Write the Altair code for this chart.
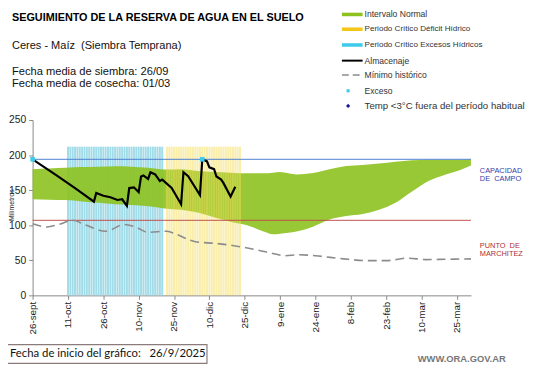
import json
import altair as alt
import pandas as pd

FONT = "Liberation Sans"

# ---------------- data ----------------
tick_days = [0, 15, 30, 45, 60, 75, 90, 105, 120, 135, 150, 165, 180]
tick_labels = ["26-sept", "11-oct", "26-oct", "10-nov", "25-nov", "10-dic", "25-dic",
               "9-ene", "24-ene", "8-feb", "23-feb", "10-mar", "25-mar"]

# Intervalo normal (band)
band_day = [0, 7, 14, 21, 28, 35, 42, 49, 56, 63, 70, 77, 84, 91, 98, 102, 105, 112, 119,
            126, 133, 140, 147, 154, 161, 168, 175, 182, 186]
band_low = [137, 136.5, 136, 134, 132, 130, 129, 127, 124, 122, 118, 111.5, 105, 100, 91, 87,
            88, 91, 98, 108, 113, 116, 122, 132, 148, 163, 172, 179.5, 185]
band_high = [180, 181, 182, 183, 183.5, 184, 183.5, 182, 179.5, 180, 177.5, 176, 175, 174, 174,
             175, 176, 172.5, 174.5, 180, 184.5, 186, 188, 190.5, 192.5, 193.5, 193.5, 193.5, 194]

# Minimo historico
min_day = [0, 6, 11, 17, 22, 31, 39, 44, 49, 57, 61, 69, 78, 86, 95, 103, 107, 113, 120, 132,
           143, 150, 159, 167, 176, 186]
min_val = [102, 97.5, 101, 107, 101, 91.5, 101, 97, 90, 91.5, 87, 76.5, 74, 70.5, 65, 59, 56.5,
           58, 56.5, 52, 49.5, 49.5, 53, 51, 51.5, 52]

# Almacenaje
alm_day = [0, 10, 18, 26, 27, 30, 33, 36, 38, 40, 41, 43, 45, 46, 47, 49, 50, 52, 54, 55,
           59, 63, 64, 66, 71, 72, 74, 75, 77, 78, 80, 81, 84, 86]
alm_val = [194, 171.5, 153, 133.5, 146, 142, 140, 136, 137, 127.5, 153, 154, 147, 169.5, 171,
           166, 175.5, 172.5, 163, 165, 153, 130, 175.5, 170, 143, 194, 191, 182.5, 180, 169.5,
           165, 160, 141, 155]

# Exceso points
exc_day = [0, 72]
exc_val = [194, 194]

# Critical periods (first day, last day) and bar top
exceso_start, exceso_end = 15, 55
deficit_start, deficit_end = 57, 88
period_top = 212

capacidad = 194
marchitez = 107

# ---------------- frames ----------------
band_df = pd.DataFrame({"day": band_day, "low": band_low, "high": band_high})
min_df = pd.DataFrame({"day": min_day, "val": min_val})
alm_df = pd.DataFrame({"day": alm_day, "val": alm_val})
exc_df = pd.DataFrame({"day": exc_day, "val": exc_val})
exc_stripes = pd.DataFrame({"day": list(range(exceso_start, exceso_end + 1))})
exc_stripes["top"] = period_top
def_stripes = pd.DataFrame({"day": list(range(deficit_start, deficit_end + 1))})
def_stripes["top"] = period_top

XS = alt.Scale(domain=[0, 186], nice=False, zero=False)
YS = alt.Scale(domain=[0, 250], nice=False)

label_expr = json.dumps(tick_labels) + "[round(datum.value/15)]"

x_axis = alt.Axis(values=tick_days, labelExpr=label_expr, labelAngle=270, labelFontSize=10,
                  labelFont=FONT, labelColor="#222", tickSize=4, tickColor="#888",
                  domainColor="#888", grid=False, title=None, labelPadding=2,
                  labelOverlap=False)
y_axis = alt.Axis(values=[0, 50, 100, 150, 200, 250], labelFontSize=10.5, labelFont=FONT,
                  labelColor="#222", tickSize=4, tickColor="#888", domainColor="#888",
                  grid=False, title="Milímetros", titleFontSize=7, titleFont=FONT,
                  titleFontWeight="normal", titleColor="#222", titleAngle=270,
                  titleX=-21, titleY=86, titleAlign="center", titleBaseline="middle",
                  labelPadding=3)


def X(f):
    return alt.X(f, scale=XS, axis=x_axis)


def Y(f):
    return alt.Y(f, scale=YS, axis=y_axis)


band = alt.Chart(band_df).mark_area(color="#8DC21F", interpolate="monotone",
                                    opacity=0.9).encode(
    x=X("day:Q"), y=Y("low:Q"), y2="high:Q")


def stripes(df, color, opacity):
    return alt.Chart(df).mark_rect(color=color, opacity=opacity).transform_calculate(
        x0="datum.day - 0.42", x1="datum.day + 0.42"
    ).encode(x=X("x0:Q"), x2="x1:Q", y=Y("top:Q"), y2=alt.datum(0))


exc_bars = stripes(exc_stripes, "#A2DCE8", 1)
def_bars = stripes(def_stripes, "#F3DE5A", 0.5)

cap_rule = alt.Chart(pd.DataFrame({"v": [capacidad]})).mark_rule(
    color="#4F7FD0", strokeWidth=1).encode(y=Y("v:Q"))
pm_rule = alt.Chart(pd.DataFrame({"v": [marchitez]})).mark_rule(
    color="#C0504D", strokeWidth=1).encode(y=Y("v:Q"))

min_line = alt.Chart(min_df).mark_line(color="#8C8C8C", strokeWidth=1.6, strokeDash=[9, 5],
                                        interpolate="monotone").encode(
    x=X("day:Q"), y=Y("val:Q"))

alm_line = alt.Chart(alm_df).mark_line(color="#000000", strokeWidth=2.2).encode(
    x=X("day:Q"), y=Y("val:Q"))

exc_pts = alt.Chart(exc_df).mark_square(color="#3ECBEB", size=22, opacity=1).encode(
    x=X("day:Q"), y=Y("val:Q"))

ONE = alt.Data(values=[{"a": 1}])


def txt(s, x, y, size=9, color="#333", weight="normal", align="left", font=FONT):
    return alt.Chart(ONE).mark_text(align=align, baseline="middle", fontSize=size,
                                    color=color, fontWeight=weight, font=font).encode(
        x=alt.value(x), y=alt.value(y), text=alt.value(s))


def rect(x, x2, y, y2, color, stroke=None, sw=0):
    kw = dict(color=color)
    if stroke:
        kw = dict(fill=color, stroke=stroke, strokeWidth=sw)
    return alt.Chart(ONE).mark_rect(**kw).encode(
        x=alt.value(x), x2=alt.value(x2), y=alt.value(y), y2=alt.value(y2))


def hline(x, x2, y, color, sw, dash=None):
    kw = dict(color=color, strokeWidth=sw)
    if dash:
        kw["strokeDash"] = dash
    return alt.Chart(ONE).mark_rule(**kw).encode(
        x=alt.value(x), x2=alt.value(x2), y=alt.value(y))


def pt(x, y, shape, color, size):
    return alt.Chart(ONE).mark_point(shape=shape, filled=True, color=color, size=size,
                                     opacity=1).encode(x=alt.value(x), y=alt.value(y))


OX, OY = 33, 119  # plot origin in page pixels

annots = [
    txt("SEGUIMIENTO DE LA RESERVA DE AGUA  EN EL SUELO", 12 - OX, 15 - OY, size=11,
        color="#000", weight="bold"),
    txt("Ceres - Maíz\u00a0 (Siembra Temprana)", 12 - OX, 43.5 - OY, size=11.2, color="#111"),
    txt("Fecha media de siembra: 26/09", 12 - OX, 70.5 - OY, size=11.3, color="#111"),
    txt("Fecha media de cosecha: 01/03", 12 - OX, 82.3 - OY, size=11.3, color="#111"),
    # legend
    rect(347 - OX, 368 - OX, 10 - OY, 13.6 - OY, "#8DC21F"),
    txt("Intervalo Normal", 370 - OX, 11.7 - OY, size=8.7),
    rect(347 - OX, 368 - OX, 25 - OY, 28.6 - OY, "#F5C518"),
    txt("Periodo Crítico Déficit Hídrico", 370 - OX, 26.7 - OY, size=8.2),
    rect(347 - OX, 368 - OX, 41 - OY, 44.6 - OY, "#3ECBEB"),
    txt("Periodo Crítico Excesos Hídricos", 370 - OX, 42.7 - OY, size=8.2),
    hline(347 - OX, 368 - OX, 58.7 - OY, "#000", 2),
    txt("Almacenaje", 370 - OX, 58.7 - OY, size=8.7),
    hline(347 - OX, 367 - OX, 73.3 - OY, "#8C8C8C", 1.6, [7, 4]),
    txt("Mínimo histórico", 370 - OX, 73.3 - OY, size=8.7),
    pt(353.3 - OX, 89.3 - OY, "square", "#3ECBEB", 10),
    txt("Exceso", 370 - OX, 89.3 - OY, size=8.7),
    pt(353.3 - OX, 104.7 - OY, "diamond", "#1A1AA0", 18),
    txt("Temp <3°C fuera del período habitual", 370 - OX, 104.7 - OY, size=9.8),
    # right side labels
    txt("CAPACIDAD", 487 - OX, 170.7 - OY, size=7.5, color="#3B3BA8"),
    txt("DE\u00a0 CAMPO", 487 - OX, 179.2 - OY, size=7.5, color="#3B3BA8"),
    txt("PUNTO\u00a0 DE", 487 - OX, 246.7 - OY, size=7.5, color="#B22D2D"),
    txt("MARCHITEZ", 487 - OX, 255.2 - OY, size=7.5, color="#B22D2D"),
    # bottom
    rect(5 - OX, 210 - OX, 347 - OY, 366 - OY, "#FFFFFF", stroke="#8C7B7B", sw=1.2),
    txt("Fecha de inicio del gráfico:\u00a0\u00a0 26/9/2025", 10 - OX, 356.5 - OY, size=11.5,
        color="#111", font="Lato"),
    txt("WWW.ORA.GOV.AR", 424 - OX, 362 - OY, size=9.5, color="#777", weight="bold"),
]

chart = alt.layer(exc_bars, band, def_bars, cap_rule, pm_rule, min_line, alm_line, exc_pts,
                  *annots).properties(
    width=445, height=178,
    autosize=alt.AutoSizeParams(type="none"),
    padding={"left": 25, "top": 111, "right": 63, "bottom": 71},
    background="white",
).configure_view(stroke=None)

chart.save("out.html", embed_options={"renderer": "svg", "actions": False})
